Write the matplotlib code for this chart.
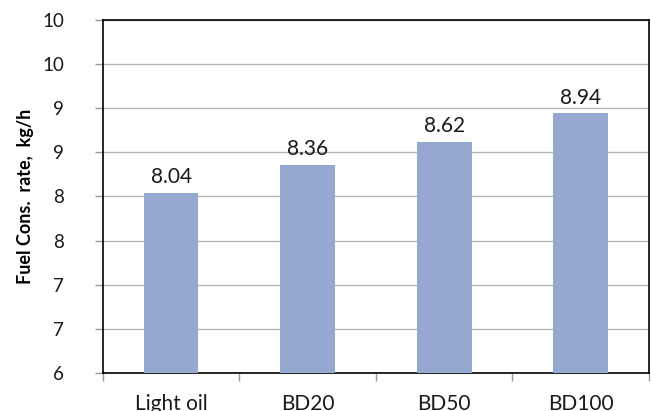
import matplotlib
matplotlib.use("Agg")
import matplotlib.pyplot as plt
from matplotlib.ticker import FixedLocator, FuncFormatter
import numpy as np

categories = ["Light oil", "BD20", "BD50", "BD100"]
fuel_rate = [8.04, 8.36, 8.62, 8.94]
y_ticks = [6, 6.5, 7, 7.5, 8, 8.5, 9, 9.5, 10]

plt.rcParams["font.family"] = ["Lato", "DejaVu Sans"]

fig = plt.figure(figsize=(6.51, 4.11), dpi=100)
ax = fig.add_axes([0.158, 0.0925, 0.839, 0.859])

x = np.arange(len(categories))
bars = ax.bar(x, fuel_rate, width=0.4, color="#95a9d0", zorder=3)

for xi, v in zip(x, fuel_rate):
    ax.annotate(f"{v:.2f}", (xi, v), xytext=(0, 4), textcoords="offset points",
                ha="center", va="bottom", fontsize=15, color="#1a1a1a")

ax.set_xlim(-0.5, len(categories) - 0.5)
ax.set_ylim(6, 10)
ax.yaxis.set_major_locator(FixedLocator(y_ticks))
# whole-number labels, rounded half up
ax.yaxis.set_major_formatter(FuncFormatter(lambda v, p: f"{int(np.floor(v + 0.5))}"))
ax.grid(axis="y", color="#b3b3b3", linewidth=1.0, zorder=0)

ax.set_xticks(x)
ax.set_xticklabels(categories, fontsize=15, color="#1a1a1a")
ax.tick_params(axis="x", length=0, pad=15)
ax.set_xticks(np.arange(len(categories) + 1) - 0.5, minor=True)
ax.tick_params(axis="x", which="minor", length=6, color="#999999", width=1)
ax.tick_params(axis="y", length=6, color="#999999", width=1, labelsize=13.5,
               labelcolor="#1a1a1a", pad=22)

for side in ["left", "bottom", "right", "top"]:
    ax.spines[side].set_color("#000000")
    ax.spines[side].set_linewidth(1.2)

ax.set_ylabel("Fuel Cons.  rate,  kg/h", fontsize=13, fontweight="bold", labelpad=6)

fig.savefig("out.png", dpi=100)
